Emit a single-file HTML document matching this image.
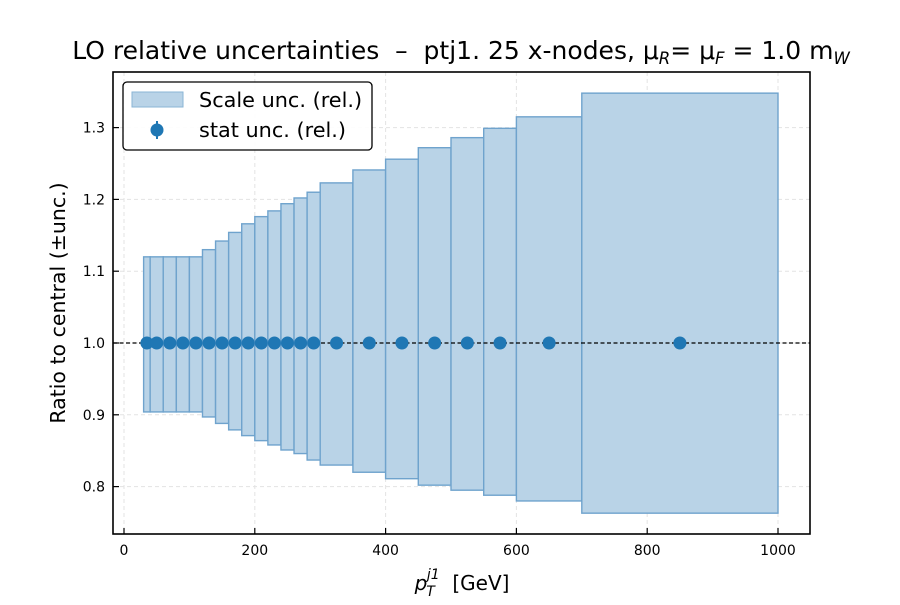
<!DOCTYPE html>
<html><head><meta charset="utf-8"><style>
body{margin:0;background:#fff}
svg text{font-family:"DejaVu Sans","Liberation Sans",sans-serif}
</style></head><body>
<svg id="chart" width="900" height="600" viewBox="0 0 900 600">
<rect width="900" height="600" fill="#fff"/>
<g id="grid"></g>
<g id="bands"></g>
<line x1="113" x2="810" y1="343" y2="343" stroke="#000" stroke-width="1.2" stroke-dasharray="4,2.5"/>
<g id="points"></g>
<rect x="113" y="72" width="697" height="462" fill="none" stroke="#000" stroke-width="1.6"/>
<g id="ticks"></g>
<text x="461" y="59" text-anchor="middle" font-size="25">LO relative uncertainties &#160;–&#160; ptj1. 25 x-nodes, μ<tspan font-size="16.5" dy="5" font-style="italic">R</tspan><tspan dy="-5">= μ</tspan><tspan font-size="16.5" dy="5" font-style="italic">F</tspan><tspan dy="-5"> = 1.0 m</tspan><tspan font-size="16.5" dy="5" font-style="italic">W</tspan></text>
<text x="462" y="590" text-anchor="middle" font-size="20"><tspan font-style="italic">p</tspan><tspan font-size="14" font-style="italic" dy="6" dx="-1">T</tspan><tspan font-size="14" font-style="italic" dy="-17" dx="-8">j1</tspan><tspan dy="11">&#160; [GeV]</tspan></text>
<text transform="translate(65,303) rotate(-90)" text-anchor="middle" font-size="20.5">Ratio to central (±unc.)</text>
<g>
<rect x="123" y="82" width="249" height="68" rx="4" fill="#fff" fill-opacity="0.9" stroke="#000" stroke-width="1.3"/>
<rect x="132" y="92" width="51" height="15" fill="#b9d3e7" stroke="#8ab4d6"/>
<text x="199" y="107" font-size="20.8">Scale unc. (rel.)</text>
<line x1="157" x2="157" y1="121" y2="139" stroke="#1f77b4" stroke-width="2"/>
<circle cx="157" cy="130" r="6.5" fill="#1f77b4"/>
<text x="199" y="137" font-size="20.8">stat unc. (rel.)</text>
</g>
</svg>
<script>
const edges=[30,40,60,80,100,120,140,160,180,200,220,240,260,280,300,350,400,450,500,550,600,700,1000];
const upper=[1.120,1.120,1.120,1.120,1.120,1.130,1.142,1.154,1.166,1.176,1.184,1.194,1.202,1.210,1.223,1.241,1.256,1.272,1.286,1.299,1.315,1.348];
const lower=[0.904,0.904,0.904,0.904,0.904,0.897,0.888,0.879,0.871,0.864,0.858,0.851,0.846,0.837,0.830,0.820,0.811,0.802,0.795,0.788,0.780,0.763];
const centers=[35,50,70,90,110,130,150,170,190,210,230,250,270,290,325,375,425,475,525,575,650,850];
const ratio=[1,1,1,1,1,1,1,1,1,1,1,1,1,1,1,1,1,1,1,1,1,1];
const xTicks=[0,200,400,600,800,1000];
const yTicks=[0.8,0.9,1.0,1.1,1.2,1.3];
const xs=v=>124+v*0.654;
const ys=v=>343-(v-1)*718;
const NS="http://www.w3.org/2000/svg";
function mk(tag,attrs,parent){const e=document.createElementNS(NS,tag);for(const k in attrs)e.setAttribute(k,attrs[k]);parent.appendChild(e);return e;}
const grid=document.getElementById('grid'),bands=document.getElementById('bands'),pts=document.getElementById('points'),ticks=document.getElementById('ticks');
xTicks.forEach(t=>{
 const g=mk('line',{x1:xs(t),x2:xs(t),y1:72,y2:534,stroke:'#e3e3e3','stroke-dasharray':'4,3'},grid);
 
 
 const tk=mk('line',{x1:xs(t),x2:xs(t),y1:534,y2:528,stroke:'#000','stroke-width':1.2},ticks);
 
 
 const tx=mk('text',{x:xs(t),y:555,'text-anchor':'middle','font-size':14},ticks);tx.textContent=t;
 
 
});
yTicks.forEach(t=>{
 const g=mk('line',{x1:113,x2:810,y1:ys(t),y2:ys(t),stroke:'#e3e3e3','stroke-dasharray':'4,3'},grid);
 
 
 const tk=mk('line',{x1:113,x2:119,y1:ys(t),y2:ys(t),stroke:'#000','stroke-width':1.2},ticks);
 
 
 const tx=mk('text',{x:105,y:ys(t)+5,'text-anchor':'end','font-size':14},ticks);tx.textContent=t.toFixed(1);
 
 
});
upper.forEach((u,i)=>{
 const x0=xs(edges[i]),x1=xs(edges[i+1]);
 const r=mk('rect',{x:x0,y:ys(u),width:x1-x0,height:ys(lower[i])-ys(u),fill:'#b9d3e7',stroke:'#6fa3cd','stroke-width':1.4},bands);
 
 
});
centers.forEach((c,i)=>{
 const p=mk('circle',{cx:xs(c),cy:ys(ratio[i]),r:6.5,fill:'#1f77b4'},pts);
 
 
});
</script>
</body></html>
